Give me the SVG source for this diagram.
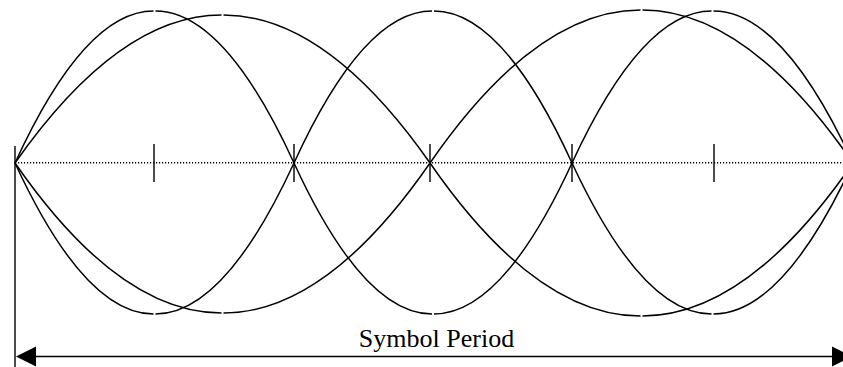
<svg xmlns="http://www.w3.org/2000/svg" width="843" height="367" viewBox="0 0 843 367">
<style>
.c{fill:none;stroke:#000;stroke-width:1.5}
.t{fill:none;stroke:#000;stroke-width:1.4}
.d{fill:none;stroke:#000;stroke-width:1.6;stroke-dasharray:1.2 1.8}
.lbl{font-family:"Liberation Serif","Times New Roman",serif;font-size:26px;fill:#000}
</style>
<rect width="843" height="367" fill="#fff"/>
<g id="baseline">
<path class="d" d="M15,162.8H843"/>
</g>
<g id="eye-top">
<path class="c" d="M15,163Q84.75,11 153.5,11"/>
<path class="c" d="M294,163Q224.25,11 155.5,11"/>
<path class="c" d="M15,163Q118.75,15 221.5,15"/>
<path class="c" d="M430,163Q326.25,15 223.5,15"/>
<path class="c" d="M294,163Q363.5,11 432,11"/>
<path class="c" d="M572,163Q502.5,11 434,11"/>
<path class="c" d="M430,163Q535.75,10 640.5,10"/>
<path class="c" d="M853,163Q747.25,10 642.5,10"/>
<path class="c" d="M572,163Q642.25,11 711.5,11"/>
<path class="c" d="M853,163Q782.75,11 713.5,11"/>
</g>
<g id="eye-bottom">
<path class="c" d="M15,163Q84.75,314 153.5,314"/>
<path class="c" d="M294,163Q224.25,314 155.5,314"/>
<path class="c" d="M15,163Q118.75,313 221.5,313"/>
<path class="c" d="M430,163Q326.25,313 223.5,313"/>
<path class="c" d="M294,163Q363.5,314 432,314"/>
<path class="c" d="M572,163Q502.5,314 434,314"/>
<path class="c" d="M430,163Q535.75,316 640.5,316"/>
<path class="c" d="M853,163Q747.25,316 642.5,316"/>
<path class="c" d="M572,163Q642.25,314 711.5,314"/>
<path class="c" d="M853,163Q782.75,314 713.5,314"/>
</g>
<g id="ticks">
<path class="t" d="M15,146V367M154,144V182M294,144V182M430,144V182M572,144V182M714,144V182"/>
</g>
<g id="connectors">
<path class="t" d="M30,356.5H838" stroke-width="1.6"/>
<polygon points="16,356.5 36,346.5 36,366.5" fill="#000"/>
<polygon points="852,356.5 832,346.5 832,366.5" fill="#000"/>
</g>
<g id="label">
<text class="lbl" x="436.5" y="347" text-anchor="middle">Symbol Period</text>
</g>
</svg>
